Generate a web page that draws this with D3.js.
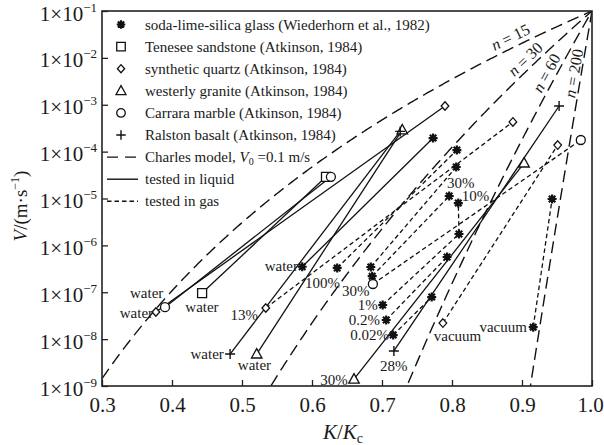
<!DOCTYPE html>
<html><head><meta charset="utf-8">
<script src="https://cdn.jsdelivr.net/npm/d3@7"></script>
<style>
body{margin:0;background:#fff}
svg{display:block}
text{font-family:"Liberation Serif","Times New Roman",serif;fill:#1a1a1a}
</style>
</head><body>
<svg id="chart" width="604" height="445"></svg>
<script>
// ---------------- data ----------------
const xTicks = [0.3, 0.4, 0.5, 0.6, 0.7, 0.8, 0.9, 1.0];
const yExponents = [-1, -2, -3, -4, -5, -6, -7, -8, -9];
const charlesN = [15, 30, 60, 200];
const charlesV0 = 0.1;

// each test: condition, medium (line style), K/Kc values, V values (m/s)
const glass = [
  {cond: "water",  medium: "liquid", K: [0.586, 0.773], V: [3.5e-7, 1.95e-4]},
  {cond: "100%",   medium: "gas",    K: [0.636, 0.807], V: [3.3e-7, 1.08e-4]},
  {cond: "30%",    medium: "gas",    K: [0.684, 0.806], V: [3.46e-7, 4.7e-5]},
  {cond: "10%",    medium: "gas",    K: [0.686, 0.796], V: [2.2e-7, 1.13e-5]},
  {cond: "1%",     medium: "gas",    K: [0.701, 0.810, 0.809], V: [5.35e-8, 1.75e-6, 8.0e-6]},
  {cond: "0.2%",   medium: "gas",    K: [0.706, 0.793], V: [2.56e-8, 5.65e-7]},
  {cond: "0.02%",  medium: "gas",    K: [0.716, 0.771], V: [1.22e-8, 7.9e-8]},
  {cond: "vacuum", medium: "gas",    K: [0.916, 0.943], V: [1.8e-8, 9.75e-6]}
];
const sandstone = [
  {cond: "water", medium: "liquid", K: [0.443, 0.620], V: [9.6e-8, 2.9e-5]}
];
const quartz = [
  {cond: "water",  medium: "liquid", K: [0.377, 0.790], V: [3.8e-8, 9.4e-4]},
  {cond: "13%",    medium: "gas",    K: [0.534, 0.887], V: [4.6e-8, 4.3e-4]},
  {cond: "vacuum", medium: "gas",    K: [0.787, 0.951], V: [2.2e-8, 1.38e-4]}
];
const granite = [
  {cond: "water", medium: "liquid", K: [0.521, 0.729], V: [4.8e-9, 2.9e-4]},
  {cond: "30%",   medium: "liquid", K: [0.660, 0.903], V: [1.4e-9, 5.7e-5]}
];
const marble = [
  {cond: "water", medium: "liquid", K: [0.390, 0.627], V: [4.8e-8, 2.9e-5]},
  {cond: "30%",   medium: "gas",    K: [0.687, 0.984], V: [1.5e-7, 1.77e-4]}
];
const basalt = [
  {cond: "water", medium: "liquid", K: [0.483, 0.726], V: [4.8e-9, 2.7e-4]},
  {cond: "28%",   medium: "liquid", K: [0.717, 0.953], V: [5.6e-9, 9.4e-4]}
];

const materials = [
  {name: "soda-lime-silica glass (Wiederhorn et al., 1982)", symbol: "star",     tests: glass},
  {name: "Tenesee sandstone (Atkinson, 1984)",               symbol: "square",   tests: sandstone},
  {name: "synthetic quartz (Atkinson, 1984)",                symbol: "diamond",  tests: quartz},
  {name: "westerly granite (Atkinson, 1984)",                symbol: "triangle", tests: granite},
  {name: "Carrara marble (Atkinson, 1984)",                  symbol: "circle",   tests: marble},
  {name: "Ralston basalt (Atkinson, 1984)",                  symbol: "plus",     tests: basalt}
];

// annotation texts with their anchor in data space
const notes = [
  {t: "water",  K: 0.580, lv: -6.547, a: "end"},
  {t: "100%",   K: 0.590, lv: -6.909, a: "start"},
  {t: "30%",    K: 0.643, lv: -7.080, a: "start"},
  {t: "1%",     K: 0.694, lv: -7.379, a: "end"},
  {t: "0.2%",   K: 0.697, lv: -7.699, a: "end"},
  {t: "0.02%",  K: 0.710, lv: -8.019, a: "end"},
  {t: "28%",    K: 0.697, lv: -8.680, a: "start"},
  {t: "30%",    K: 0.651, lv: -8.979, a: "end"},
  {t: "water",  K: 0.474, lv: -8.424, a: "end"},
  {t: "water",  K: 0.494, lv: -8.659, a: "start"},
  {t: "13%",    K: 0.523, lv: -7.592, a: "end"},
  {t: "water",  K: 0.419, lv: -7.421, a: "start"},
  {t: "water",  K: 0.340, lv: -7.123, a: "start"},
  {t: "water",  K: 0.373, lv: -7.549, a: "end"},
  {t: "vacuum", K: 0.774, lv: -8.040, a: "start"},
  {t: "vacuum", K: 0.907, lv: -7.848, a: "end"},
  {t: "30%",    K: 0.793, lv: -4.776, a: "start"},
  {t: "10%",    K: 0.814, lv: -5.053, a: "start"}
];

// ---------------- layout ----------------
const svg = d3.select("#chart");
const L = 102, R = 592, T = 11, B = 386;
const x = d3.scaleLinear().domain([0.3, 1.0]).range([L, R]);
const y = d3.scaleLog().domain([1e-9, 1e-1]).range([B, T]);

svg.append("rect").attr("width", 604).attr("height", 445).attr("fill", "#fff");

svg.append("clipPath").attr("id", "clip")
  .append("rect").attr("x", L).attr("y", T).attr("width", R - L).attr("height", B - T);

// symbols
const symbolTypes = {
  star: {draw(c, s) { const r = Math.sqrt(s) / 2, d = r * 0.72;
    c.moveTo(-r, 0); c.lineTo(r, 0); c.moveTo(0, -r); c.lineTo(0, r);
    c.moveTo(-d, -d); c.lineTo(d, d); c.moveTo(-d, d); c.lineTo(d, -d); }},
  square: {draw(c, s) { const h = Math.sqrt(s) / 2; c.rect(-h, -h, 2 * h, 2 * h); }},
  diamond: {draw(c, s) { const h = Math.sqrt(s) / 2; c.moveTo(0, -h); c.lineTo(h * 0.9, 0); c.lineTo(0, h); c.lineTo(-h * 0.9, 0); c.closePath(); }},
  triangle: {draw(c, s) { const h = Math.sqrt(s) / 2; c.moveTo(0, -h * 1.05); c.lineTo(h, h * 0.75); c.lineTo(-h, h * 0.75); c.closePath(); }},
  circle: {draw(c, s) { const r = Math.sqrt(s) / 2; c.moveTo(r, 0); c.arc(0, 0, r, 0, 2 * Math.PI); }},
  plus: {draw(c, s) { const h = Math.sqrt(s) / 2; c.moveTo(-h, 0); c.lineTo(h, 0); c.moveTo(0, -h); c.lineTo(0, h); }}
};
const symbolSize = {star: 81, square: 81, diamond: 72, triangle: 110, circle: 81, plus: 100};

function drawMarker(g, sym, px, py, scale = 1) {
  const p = d3.symbol().type(symbolTypes[sym]).size(symbolSize[sym] * scale)();
  if (sym === "star") {
    g.append("path").attr("d", p).attr("transform", `translate(${px},${py})`)
      .attr("fill", "none").attr("stroke", "#111").attr("stroke-width", 2.2);
    g.append("circle").attr("cx", px).attr("cy", py).attr("r", 2.4).attr("fill", "#111");
  } else if (sym === "plus") {
    g.append("path").attr("d", p).attr("transform", `translate(${px},${py})`)
      .attr("fill", "none").attr("stroke", "#111").attr("stroke-width", 1.4);
  } else {
    g.append("path").attr("d", p).attr("transform", `translate(${px},${py})`)
      .attr("fill", "#fff").attr("stroke", "#111").attr("stroke-width", 1.3);
  }
}

const dashFor = {liquid: null, gas: "4.5,3", charles: "12,6"};

// Charles model curves
const plotG = svg.append("g").attr("clip-path", "url(#clip)");
const kSamples = d3.range(0.3, 1.00001, 0.002);
const lineGen = d3.line().x(d => x(d[0])).y(d => y(d[1]));
charlesN.forEach(n => {
  const pts = kSamples.map(k => [k, charlesV0 * Math.pow(k, n)]).filter(p => p[1] >= 1e-10);
  plotG.append("path").attr("d", lineGen(pts))
    .attr("fill", "none").attr("stroke", "#111").attr("stroke-width", 1.4)
    .attr("stroke-dasharray", dashFor.charles);
});

// test lines
materials.forEach(m => {
  m.tests.forEach(t => {
    const pts = t.K.map((k, i) => [k, t.V[i]]);
    plotG.append("path").attr("d", lineGen(pts))
      .attr("fill", "none").attr("stroke", "#111").attr("stroke-width", 1.3)
      .attr("stroke-dasharray", dashFor[t.medium]);
  });
});
// markers
const markG = svg.append("g");
materials.forEach(m => {
  m.tests.forEach(t => {
    t.K.forEach((k, i) => drawMarker(markG, m.symbol, x(k), y(t.V[i])));
  });
});

// n labels along the Charles curves
const nLabelK = [0.89, 0.914, 0.947, 0.9845];
const nLabelOff = [11, 10, 10, 8];
charlesN.forEach((n, i) => {
  const k = nLabelK[i];
  const px = x(k), py = y(charlesV0 * Math.pow(k, n));
  const dk = 0.001;
  const slope = (y(charlesV0 * Math.pow(k + dk, n)) - py) / (x(k + dk) - px);
  const ang = Math.atan(slope);
  const nx = Math.sin(ang), ny = -Math.cos(ang);
  const cx = px + nx * nLabelOff[i], cy = py + ny * nLabelOff[i];
  const t = svg.append("text").attr("transform", `translate(${cx},${cy}) rotate(${ang * 180 / Math.PI})`)
    .attr("text-anchor", "middle").attr("dominant-baseline", "central").attr("font-size", 16);
  t.append("tspan").attr("font-style", "italic").text("n");
  t.append("tspan").text(" = " + n);
});

// annotations
notes.forEach(nt => {
  svg.append("text").attr("x", x(nt.K)).attr("y", y(Math.pow(10, nt.lv)))
    .attr("text-anchor", nt.a).attr("font-size", 15).text(nt.t);
});

// frame
svg.append("rect").attr("x", L).attr("y", T).attr("width", R - L).attr("height", B - T)
  .attr("fill", "none").attr("stroke", "#222").attr("stroke-width", 1.6);

// x axis
const xAxis = svg.append("g").attr("transform", `translate(0,${B})`)
  .call(d3.axisBottom(x).tickValues(xTicks).tickSize(-6).tickPadding(11).tickFormat(d3.format(".1f")));
xAxis.select(".domain").remove();
xAxis.selectAll(".tick line").attr("stroke", "#222").attr("stroke-width", 1.3);
xAxis.selectAll(".tick text").attr("font-size", 21).attr("font-family", "Liberation Serif, serif").attr("fill", "#1a1a1a")
  .attr("dx", d => d >= 0.999 ? -2 : 0);

// y axis
const yAxis = svg.append("g").attr("transform", `translate(${L},0)`)
  .call(d3.axisLeft(y).tickValues(yExponents.map(e => Math.pow(10, e))).tickSize(-6).tickFormat(""));
yAxis.select(".domain").remove();
yAxis.selectAll(".tick line").attr("stroke", "#222").attr("stroke-width", 1.3);
yExponents.forEach(e => {
  const t = svg.append("text").attr("x", 97).attr("y", y(Math.pow(10, e)) + 9.5)
    .attr("text-anchor", "end").attr("font-size", 21);
  t.append("tspan").text("1\u00d710");
  t.append("tspan").attr("font-size", 13).attr("dy", -9).text("\u2212" + (-e));
});

// axis titles
const yt = svg.append("text").attr("transform", "translate(27,206) rotate(-90)")
  .attr("text-anchor", "middle").attr("font-size", 19);
yt.append("tspan").attr("font-style", "italic").text("V");
yt.append("tspan").text("/(m\u00b7s");
yt.append("tspan").attr("font-size", 12).attr("dy", -8).text("\u22121");
yt.append("tspan").attr("dy", 8).text(")");

const xt = svg.append("text").attr("x", 343).attr("y", 439).attr("text-anchor", "middle").attr("font-size", 21);
xt.append("tspan").attr("font-style", "italic").text("K");
xt.append("tspan").text("/");
xt.append("tspan").attr("font-style", "italic").text("K");
xt.append("tspan").attr("font-size", 14).attr("dy", 4).text("c");

// legend
const legG = svg.append("g");
const legY0 = 24.5, legStep = 22.1, legSymX = 121, legTextX = 145;
materials.forEach((m, i) => {
  const cy = legY0 + i * legStep;
  drawMarker(legG, m.symbol, legSymX, cy, 0.9);
  legG.append("text").attr("x", legTextX).attr("y", cy + 5).attr("font-size", 15).text(m.name);
});
const lineLegend = [
  {style: "charles", label: "Charles model"},
  {style: "liquid", label: "tested in liquid"},
  {style: "gas", label: "tested in gas"}
];
lineLegend.forEach((l, j) => {
  const cy = legY0 + (materials.length + j) * legStep;
  legG.append("line").attr("x1", 107).attr("x2", 138).attr("y1", cy).attr("y2", cy)
    .attr("stroke", "#111").attr("stroke-width", 1.4)
    .attr("stroke-dasharray", l.style === "charles" ? "11,7" : dashFor[l.style]);
  const t = legG.append("text").attr("x", legTextX).attr("y", cy + 5).attr("font-size", 15);
  if (l.style === "charles") {
    t.append("tspan").text("Charles model, ");
    t.append("tspan").attr("font-style", "italic").text("V");
    t.append("tspan").attr("font-size", 10).attr("dy", 3).text("0");
    t.append("tspan").attr("dy", -3).text(" =" + charlesV0 + " m/s");
  } else {
    t.text(l.label);
  }
});
</script>
</body></html>
